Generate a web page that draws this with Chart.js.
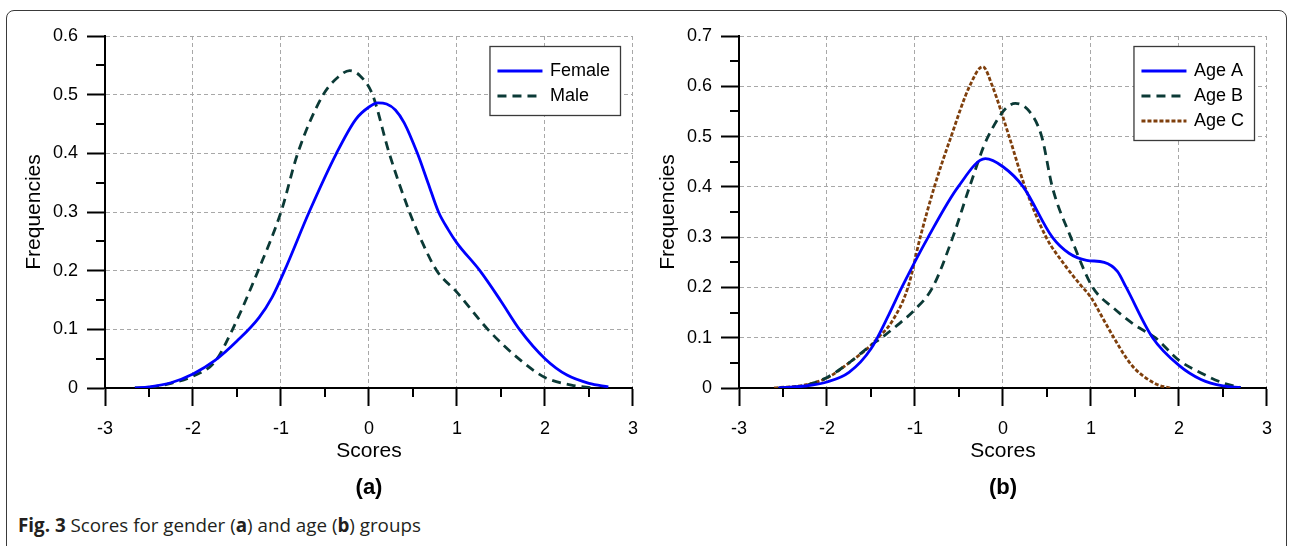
<!DOCTYPE html>
<html>
<head>
<meta charset="utf-8">
<script src="https://cdn.jsdelivr.net/npm/chart.js@4.4.1/dist/chart.umd.min.js"></script>
<style>
  html, body { margin: 0; padding: 0; background: #fff; }
  body { width: 1290px; height: 546px; position: relative; overflow: hidden; }
  #frame { position: absolute; left: 6px; top: 10px; width: 1281px; height: 600px;
           border: 1px solid #3a3a3a; border-radius: 8px; box-sizing: border-box; }
  canvas { position: absolute; top: 0; }
  #cA { left: 0; }
  #cB { left: 634px; }
  #cap { position: absolute; left: 18px; top: 514px; font-family: 'Open Sans', 'Noto Sans', sans-serif;
         font-size: 18.8px; line-height: 22px; color: #231f20; white-space: nowrap; }
  #cap b { font-weight: 700; }
</style>
</head>
<body>
<div id="frame"></div>
<canvas id="cA" width="650" height="510"></canvas>
<canvas id="cB" width="650" height="510"></canvas>
<div id="cap"><b>Fig. 3</b> Scores for gender (<b>a</b>) and age (<b>b</b>) groups</div>
<script>
// ---------- data: panel (a) ----------
const femaleX = [-2.66, -2.5, -2.25, -2.0, -1.75, -1.5, -1.25, -1.1, -0.96, -0.68, -0.37, -0.15, 0.0, 0.1, 0.2, 0.3, 0.4, 0.55, 0.67, 0.79, 0.9, 1.0, 1.26, 1.5, 1.71, 2.0, 2.25, 2.5, 2.72];
const femaleY = [0, 0.002, 0.009, 0.024, 0.047, 0.08, 0.12, 0.155, 0.2, 0.3, 0.4, 0.458, 0.479, 0.486, 0.484, 0.474, 0.452, 0.4, 0.35, 0.3, 0.27, 0.247, 0.2, 0.148, 0.1, 0.05, 0.022, 0.008, 0.002];
const maleX = [-2.66, -2.5, -2.25, -2.0, -1.75, -1.55, -1.26, -1.0, -0.81, -0.52, -0.35, -0.22, -0.1, 0.04, 0.23, 0.46, 0.6, 0.77, 1.0, 1.35, 1.7, 2.0, 2.3, 2.55];
const maleY = [0, 0.001, 0.008, 0.02, 0.045, 0.1, 0.2, 0.3, 0.4, 0.5, 0.53, 0.541, 0.532, 0.5, 0.4, 0.3, 0.25, 0.2, 0.163, 0.1, 0.05, 0.018, 0.005, 0];

// ---------- data: panel (b) ----------
const ageAX = [-2.55, -2.25, -2.0, -1.75, -1.5, -1.3, -1.15, -0.85, -0.51, -0.2, 0.0, 0.23, 0.56, 0.75, 0.95, 1.15, 1.3, 1.4, 1.7, 2.0, 2.25, 2.5, 2.7];
const ageAY = [0, 0.004, 0.012, 0.031, 0.078, 0.145, 0.2, 0.3, 0.4, 0.456, 0.44, 0.4, 0.3, 0.268, 0.254, 0.25, 0.232, 0.2, 0.1, 0.045, 0.017, 0.004, 0.001];
const ageBX = [-2.55, -2.25, -2.0, -1.75, -1.5, -1.38, -1.2, -1.0, -0.8, -0.57, -0.38, -0.17, 0.14, 0.3, 0.44, 0.56, 0.77, 1.02, 1.25, 1.5, 1.73, 2.0, 2.25, 2.5, 2.7];
const ageBY = [0, 0.005, 0.021, 0.05, 0.085, 0.1, 0.125, 0.156, 0.2, 0.3, 0.4, 0.5, 0.566, 0.55, 0.5, 0.4, 0.3, 0.2, 0.16, 0.125, 0.1, 0.055, 0.03, 0.01, 0.001];
const ageCX = [-2.6, -2.25, -2.0, -1.75, -1.5, -1.42, -1.27, -1.08, -0.94, -0.78, -0.59, -0.38, -0.23, -0.12, 0.07, 0.25, 0.49, 0.7, 0.88, 1.0, 1.13, 1.26, 1.4, 1.5, 1.75, 1.9];
const ageCY = [0, 0.006, 0.02, 0.05, 0.085, 0.1, 0.13, 0.2, 0.3, 0.4, 0.5, 0.6, 0.639, 0.6, 0.5, 0.4, 0.3, 0.245, 0.205, 0.18, 0.14, 0.1, 0.06, 0.038, 0.007, 0];

// ---------- axis settings ----------
const xMin = -3, xMax = 3, xStep = 0.5;
const yMaxA = 0.6, yMaxB = 0.7, yStep = 0.05;
const xTitle = 'Scores';
const yTitle = 'Frequencies';
const panelA = '(a)';
const panelB = '(b)';

const FONT = "'Liberation Sans', Arial, sans-serif";
const GRID = '#a8a8a8';
const BLUE = '#0000ff';
const GREEN = '#0b3a36';
const BROWN = '#7f3f0c';

function pairs(xs, ys) { return xs.map((x, i) => ({ x: x, y: ys[i] })); }
const isMajorX = v => Math.abs(v - Math.round(v)) < 1e-6;
const isMajorY = v => Math.abs(v * 10 - Math.round(v * 10)) < 1e-6;

const minorTicks = {
  id: 'minorTicks',
  afterDraw(chart) {
    const ctx = chart.ctx;
    const sx = chart.scales.x, sy = chart.scales.y;
    ctx.save();
    ctx.strokeStyle = '#000';
    ctx.lineWidth = 2;
    sx.ticks.forEach(t => {
      if (isMajorX(t.value)) return;
      const p = Math.round(sx.getPixelForValue(t.value));
      ctx.beginPath(); ctx.moveTo(p, sx.top); ctx.lineTo(p, sx.top + 9); ctx.stroke();
    });
    sy.ticks.forEach(t => {
      if (isMajorY(t.value)) return;
      const p = Math.round(sy.getPixelForValue(t.value));
      ctx.beginPath(); ctx.moveTo(sy.right, p); ctx.lineTo(sy.right - 9, p); ctx.stroke();
    });
    ctx.restore();
  }
};

const boxLegend = {
  id: 'boxLegend',
  afterDraw(chart) {
    const ctx = chart.ctx;
    const area = chart.chartArea;
    const ds = chart.data.datasets;
    ctx.save();
    ctx.font = '18px ' + FONT;
    let tw = 0;
    ds.forEach(d => { tw = Math.max(tw, ctx.measureText(d.label).width); });
    const sampleW = 45, gap = 7.5, padL = 7.5, padR = 10.5, rowH = 25;
    const w = padL + sampleW + gap + tw + padR;
    const right = area.right - 12.5;
    const left = right - w;
    const top = area.top + 10.5;
    const h = 24.5 + (ds.length - 1) * rowH + 19.5;
    ctx.fillStyle = '#fff';
    ctx.fillRect(left, top, w, h);
    ctx.strokeStyle = '#3a3a3a';
    ctx.lineWidth = 1.3;
    ctx.strokeRect(left, top, w, h);
    ds.forEach((d, i) => {
      const cy = top + 24.5 + i * rowH;
      ctx.beginPath();
      ctx.setLineDash(d.borderDash || []);
      ctx.strokeStyle = d.borderColor;
      ctx.lineWidth = d.borderWidth;
      ctx.moveTo(left + padL, cy);
      ctx.lineTo(left + padL + sampleW, cy);
      ctx.stroke();
      ctx.setLineDash([]);
      ctx.fillStyle = '#000';
      ctx.textBaseline = 'middle';
      ctx.textAlign = 'left';
      ctx.fillText(d.label, left + padL + sampleW + gap, cy);
    });
    ctx.restore();
  }
};

function makeChart(id, datasets, yMax, panel) {
  return new Chart(document.getElementById(id), {
    type: 'line',
    data: { datasets: datasets },
    plugins: [minorTicks, boxLegend],
    options: {
      responsive: false,
      animation: false,
      layout: { padding: { left: 20, right: 17, top: 36, bottom: 5.6 } },
      elements: { point: { radius: 0 }, line: { tension: 0.4, cubicInterpolationMode: 'monotone' } },
      plugins: {
        legend: { display: false },
        tooltip: { enabled: false },
        title: {
          display: true, text: panel, position: 'bottom', fullSize: false,
          font: { family: FONT, size: 22, weight: 'bold' }, color: '#000',
          padding: { top: 7, bottom: 3 }
        }
      },
      scales: {
        x: {
          type: 'linear', min: xMin, max: xMax,
          afterFit(s) { s.height = 80; },
          ticks: {
            stepSize: xStep, autoSkip: false, maxRotation: 0, minRotation: 0, padding: 12,
            color: '#000', font: { family: FONT, size: 18 },
            callback: v => isMajorX(v) ? String(Math.round(v)) : ''
          },
          grid: {
            color: c => (c.tick && isMajorX(c.tick.value)) ? GRID : 'rgba(0,0,0,0)',
            lineWidth: 1, tickLength: 18, tickWidth: 2, tickBorderDash: [],
            tickColor: c => (c.tick && isMajorX(c.tick.value)) ? '#000' : 'rgba(0,0,0,0)'
          },
          border: { display: true, color: '#000', width: 2, dash: [4, 3] },
          title: { display: true, text: xTitle, color: '#000', font: { family: FONT, size: 21 }, padding: { top: 0, bottom: 4.4 } }
        },
        y: {
          type: 'linear', min: 0, max: yMax,
          afterFit(s) { s.width = 85; },
          ticks: {
            stepSize: yStep, autoSkip: false, padding: 9,
            color: '#000', font: { family: FONT, size: 18 },
            callback: v => isMajorY(v) ? String(Math.round(v * 10) / 10) : ''
          },
          grid: {
            color: c => (c.tick && isMajorY(c.tick.value)) ? GRID : 'rgba(0,0,0,0)',
            lineWidth: 1, tickLength: 18, tickWidth: 2, tickBorderDash: [],
            tickColor: c => (c.tick && isMajorY(c.tick.value)) ? '#000' : 'rgba(0,0,0,0)'
          },
          border: { display: true, color: '#000', width: 2, dash: [4, 3] },
          title: { display: true, text: yTitle, color: '#000', font: { family: FONT, size: 21 }, padding: { top: 1.5, bottom: 0 } }
        }
      }
    }
  });
}

makeChart('cA', [
  { label: 'Female', data: pairs(femaleX, femaleY), borderColor: BLUE, borderWidth: 2.8, fill: false },
  { label: 'Male', data: pairs(maleX, maleY), borderColor: GREEN, borderWidth: 2.8, borderDash: [9, 6], fill: false }
], yMaxA, panelA);

makeChart('cB', [
  { label: 'Age A', data: pairs(ageAX, ageAY), borderColor: BLUE, borderWidth: 2.8, fill: false },
  { label: 'Age B', data: pairs(ageBX, ageBY), borderColor: GREEN, borderWidth: 2.8, borderDash: [9, 6], fill: false },
  { label: 'Age C', data: pairs(ageCX, ageCY), borderColor: BROWN, borderWidth: 2.8, borderDash: [4, 2], fill: false }
], yMaxB, panelB);
</script>
</body>
</html>
